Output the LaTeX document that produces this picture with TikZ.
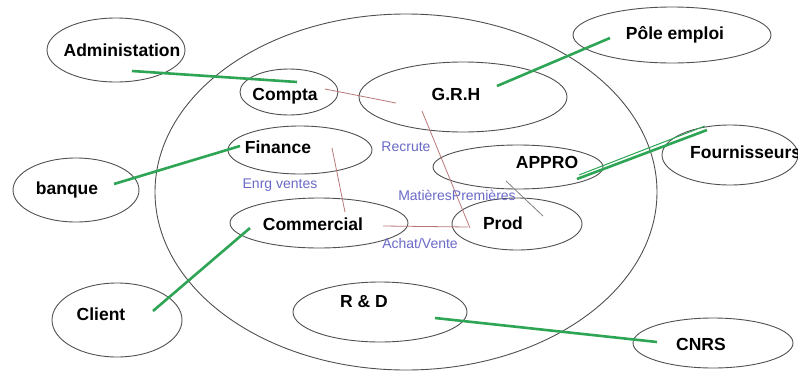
\documentclass[tikz,border=0pt]{standalone}
\usepackage{fontspec}
\setmainfont{Liberation Sans}
\usetikzlibrary{shapes.geometric,calc}
\definecolor{grn}{RGB}{45,165,85}
\definecolor{brn}{RGB}{185,120,120}
\definecolor{lbl}{RGB}{105,105,200}
\definecolor{edge}{RGB}{80,80,80}
\begin{document}
\begin{tikzpicture}[x=1pt,y=-1pt,
 ell/.style={draw=edge, line width=0.9pt, ellipse, inner sep=0pt},
 nm/.style={font=\fontsize{17.5}{20}\selectfont\bfseries, text=black, inner sep=0pt, anchor=base},
 lab/.style={font=\fontsize{14}{16}\selectfont, text=lbl, inner sep=0pt, anchor=base},
 gl/.style={draw=grn, line width=2.6pt},
 bl/.style={draw=brn, line width=0.8pt}]
\useasboundingbox (0,0) rectangle (798,370);
% enterprise
\node[ell, minimum width=502pt, minimum height=356pt] (firm) at (406,192) {};
% ellipses
\node[ell, minimum width=138pt, minimum height=64pt] (adm) at (116,50) {};
\node[ell, minimum width=98pt, minimum height=46pt] (compta) at (289,92) {};
\node[ell, minimum width=208pt, minimum height=70pt] (grh) at (463,97) {};
\node[ell, minimum width=144pt, minimum height=48pt] (fin) at (300,150) {};
\node[ell, minimum width=170pt, minimum height=44pt] (appro) at (518,167) {};
\node[ell, minimum width=178pt, minimum height=50pt] (comm) at (319,223) {};
\node[ell, minimum width=130pt, minimum height=52pt] (prod) at (517,224) {};
\node[ell, minimum width=174pt, minimum height=60pt] (rd) at (380,312) {};
\node[ell, minimum width=160pt, minimum height=50pt] (cnrs) at (713,343) {};
\node[ell, minimum width=130pt, minimum height=74pt] (client) at (117,320) {};
\node[ell, minimum width=126pt, minimum height=64pt] (banque) at (76,190) {};
\node[ell, minimum width=198pt, minimum height=56pt] (pole) at (672,35) {};
\node[ell, minimum width=136pt, minimum height=60pt] (fourn) at (730,155) {};
% names
\node[nm] (admT) at (122,56) {Administation};
\node[nm] (comptaT) at (285,100) {Compta};
\node[nm] (grhT) at (456,100) {G.R.H};
\node[nm] (finT) at (278,153) {Finance};
\node[nm] (approT) at (547,168) {APPRO};
\node[nm] (commT) at (313,230) {Commercial};
\node[nm] (prodT) at (503,229) {Prod};
\node[nm] (rdT) at (364,307) {R \& D};
\node[nm] (cnrsT) at (701,350) {CNRS};
\node[nm] (clientT) at (101,320) {Client};
\node[nm] (banqueT) at (67,194) {banque};
\node[nm] (poleT) at (675,39) {Pôle emploi};
\node[nm, anchor=base west] (fournT) at (690,158) {Fournisseurs};
% internal links
\draw[bl] ($(compta)+(36,-3)$) -- ($(grh)+(-67,6)$);
\draw[bl] ($(grh)+(-41,14)$) -- ($(prod)+(-47,4)$);
\draw[bl] ($(fin)+(32,-2)$) -- ($(comm)+(26,-11)$);
\draw[bl] ($(comm)+(64,3)$) -- ($(prod)+(-49,3)$);
\draw[bl, draw=gray] ($(appro)+(-12,14)$) -- ($(prod)+(26,-8)$);
% labels
\node[lab] (recrute) at (406,151) {Recrute};
\node[lab] (enrg) at (280,188) {Enrg ventes};
\node[lab] (mp) at (457,200) {MatièresPremières};
\node[lab] (av) at (420,248) {Achat/Vente};
% external links
\draw[gl] ($(adm)+(16,21)$) -- ($(compta)+(8,-10)$);
\draw[gl] ($(banque)+(38,-6)$) -- ($(fin)+(-60,-4)$);
\draw[gl] ($(client)+(36,-9)$) -- ($(comm)+(-69,5)$);
\draw[gl] ($(grh)+(34,-11)$) -- ($(pole)+(-62,3)$);
\draw[gl] ($(appro)+(59,12)$) -- ($(fourn)+(-23,-25)$);
\draw[draw=grn, line width=1pt] ($(appro)+(61,8)$) -- ($(fourn)+(-25,-29)$);
\draw[gl] ($(rd)+(55,6)$) -- ($(cnrs)+(-56,-1)$);
\end{tikzpicture}
\end{document}
